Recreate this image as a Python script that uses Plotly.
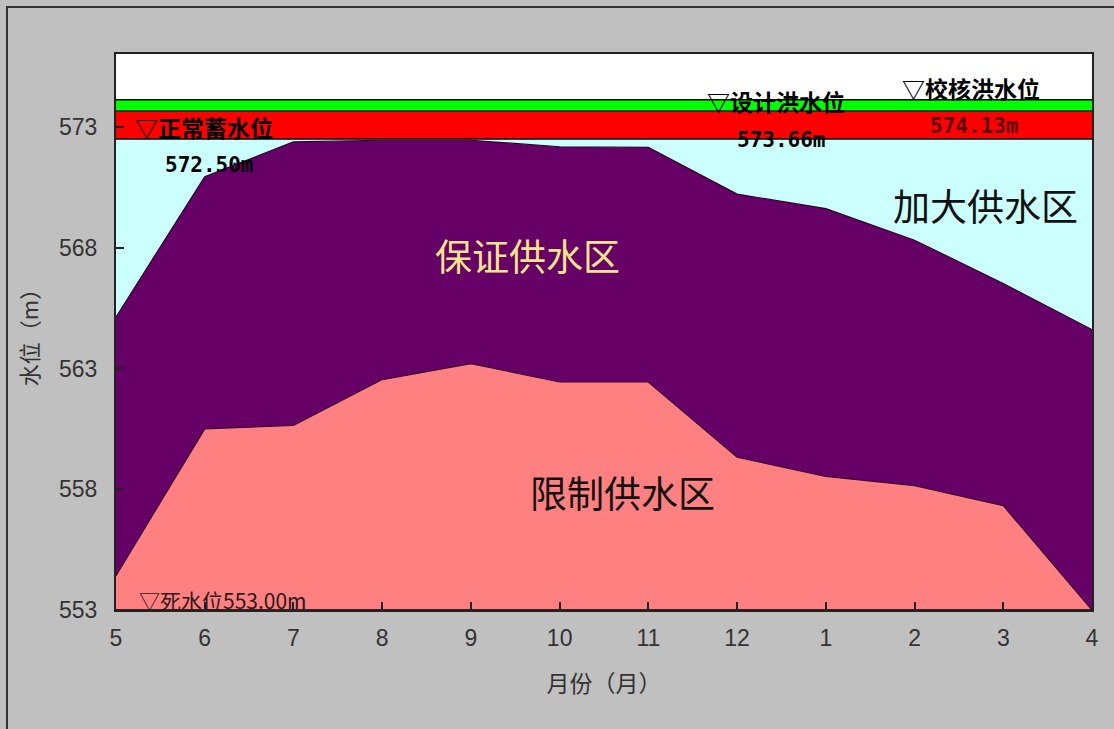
import plotly.graph_objects as go

# ---- data ----
months = ["5", "6", "7", "8", "9", "10", "11", "12", "1", "2", "3", "4"]
upper_curve = [565.13, 570.94, 572.38, 572.45, 572.45, 572.18, 572.15, 570.22, 569.62, 568.31, 566.52, 564.61]
lower_curve = [554.42, 560.50, 560.64, 562.54, 563.20, 562.44, 562.44, 559.33, 558.53, 558.15, 557.32, 553.00]
dead_level = 553.00
normal_level = 572.50
design_flood = 573.66
check_flood = 574.13
y_ticks = [553, 558, 563, 568, 573]

x = list(range(len(months)))
n = len(months)

fig = go.Figure()
# baseline (dead water level)
fig.add_trace(go.Scatter(x=x, y=[dead_level] * n, mode="lines",
                         line=dict(color="black", width=1.5), showlegend=False, hoverinfo="skip"))
# 限制供水区
fig.add_trace(go.Scatter(x=x, y=lower_curve, mode="lines", fill="tonexty",
                         fillcolor="#FF8080", line=dict(color="#3a0030", width=1.2),
                         showlegend=False))
# 保证供水区
fig.add_trace(go.Scatter(x=x, y=upper_curve, mode="lines", fill="tonexty",
                         fillcolor="#660066", line=dict(color="#2a002a", width=1.2),
                         showlegend=False))
# 加大供水区
fig.add_trace(go.Scatter(x=x, y=[normal_level] * n, mode="lines", fill="tonexty",
                         fillcolor="#CCFFFF", line=dict(color="black", width=1.5),
                         showlegend=False))
# red band
fig.add_trace(go.Scatter(x=x, y=[design_flood] * n, mode="lines", fill="tonexty",
                         fillcolor="#FF0000", line=dict(color="#202020", width=1.5),
                         showlegend=False))
# green band
fig.add_trace(go.Scatter(x=x, y=[check_flood] * n, mode="lines", fill="tonexty",
                         fillcolor="#00FF00", line=dict(color="black", width=1.5),
                         showlegend=False))

cjk = "Noto Sans CJK SC"
bold_font = dict(family=cjk, size=23, color="black")
num_font = dict(family="DejaVu Sans Mono, monospace", size=21, color="black")

annotations = [
    dict(x=0.19, y=573.0, text="<b>▽正常蓄水位</b>", xanchor="left", yanchor="middle", font=bold_font),
    dict(x=0.53, y=571.42, text="<b>572.50m</b>", xanchor="left", yanchor="middle", font=num_font),
    dict(x=6.64, y=574.07, text="<b>▽设计洪水位</b>", xanchor="left", yanchor="middle", font=bold_font),
    dict(x=6.98, y=572.46, text="<b>573.66m</b>", xanchor="left", yanchor="middle", font=num_font),
    dict(x=8.84, y=574.62, text="<b>▽校核洪水位</b>", xanchor="left", yanchor="middle", font=bold_font),
    dict(x=9.15, y=573.05, text="<b>574.13m</b>", xanchor="left", yanchor="middle",
         font=dict(family="DejaVu Sans Mono, monospace", size=21, color="#5a0000")),
    dict(x=8.73, y=569.77, text="加大供水区", xanchor="left", yanchor="middle",
         font=dict(family=cjk, size=37, color="#111111")),
    dict(x=3.57, y=567.69, text="保证供水区", xanchor="left", yanchor="middle",
         font=dict(family=cjk, size=37, color="#F5E68C")),
    dict(x=4.64, y=557.87, text="限制供水区", xanchor="left", yanchor="middle",
         font=dict(family=cjk, size=37, color="#111111")),
    dict(x=0.24, y=553.4, text="▽死水位553.00m", xanchor="left", yanchor="middle",
         font=dict(family=cjk, size=21, color="#2a1a1a")),
]
for a in annotations:
    a.update(showarrow=False, xref="x", yref="y")

# outer frame of the picture
fig.add_shape(type="rect", xref="paper", yref="paper",
              x0=(7 - 116) / 976, x1=(1130 - 116) / 976,
              y0=(610 - 745) / 556, y1=(610 - 7) / 556,
              line=dict(color="#333333", width=2), fillcolor="rgba(0,0,0,0)", layer="below")

fig.update_layout(
    width=1114, height=729,
    margin=dict(l=116, r=22, t=54, b=119),
    paper_bgcolor="#C0C0C0",
    plot_bgcolor="white",
    annotations=annotations,
    showlegend=False,
    xaxis=dict(
        range=[0, n - 1], tickvals=x, ticktext=months,
        ticks="inside", ticklen=8, tickcolor="#222222", tickwidth=1.5,
        showgrid=False, zeroline=False,
        showline=True, linecolor="#222222", linewidth=2, mirror=True,
        ticklabelstandoff=6,
        tickfont=dict(family="Liberation Sans, Arial", size=23, color="#333333"),
        title=dict(text="月份（月）", font=dict(family=cjk, size=23, color="#333333"), standoff=26),
    ),
    yaxis=dict(
        range=[553, 576.02], tickvals=y_ticks,
        ticks="inside", ticklen=8, tickcolor="#222222", tickwidth=1.5,
        showgrid=False, zeroline=False,
        showline=True, linecolor="#222222", linewidth=2, mirror=True,
        ticklabelstandoff=12,
        tickfont=dict(family="Liberation Sans, Arial", size=23, color="#333333"),
        title=dict(text="水位（m）", font=dict(family=cjk, size=22, color="#333333"), standoff=14),
    ),
)

fig.write_html("out.html", config={"displayModeBar": False},
               post_script="document.body.style.margin='0';document.body.style.background='#C0C0C0';")
